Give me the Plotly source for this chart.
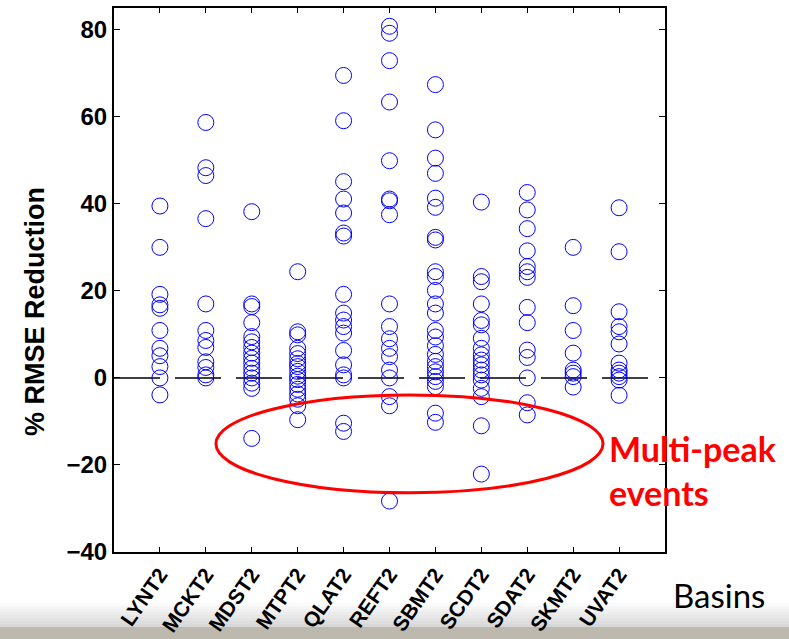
import plotly.graph_objects as go

basins = ["LYNT2", "MCKT2", "MDST2", "MTPT2", "QLAT2", "REFT2",
          "SBMT2", "SCDT2", "SDAT2", "SKMT2", "UVAT2"]

LYNT2 = [39.5, 30.0, 19.2, 16.8, 16.0, 10.9, 6.8, 5.1, 2.6, 0.0, -3.9]
MCKT2 = [58.7, 48.3, 46.5, 36.6, 17.0, 10.9, 8.6, 7.0, 3.7, 2.4, 0.7, 0.0]
MDST2 = [38.2, 17.0, 16.4, 12.7, 9.5, 8.3, 7.0, 5.7, 4.5, 3.4, 2.2, 1.1, 0.0, -1.2, -2.4, -13.9]
MTPT2 = [24.4, 10.6, 9.9, 6.8, 5.6, 4.4, 3.3, 2.6, 1.5, 0.4, -0.4, -1.5, -2.6, -3.7, -4.9, -6.4, -9.6]
QLAT2 = [69.5, 59.1, 45.1, 41.1, 37.9, 33.3, 32.6, 19.2, 14.9, 13.3, 11.8, 10.3, 6.3, 3.0, 0.7, 0.0, -10.4, -12.3]
REFT2 = [80.8, 79.2, 72.9, 63.4, 49.9, 41.1, 40.7, 37.5, 17.0, 11.8, 9.0, 6.8, 4.9, 1.8, 0.0, -4.3, -6.4, -28.3]
SBMT2 = [67.4, 57.0, 50.5, 47.0, 41.3, 39.2, 32.3, 31.7, 24.4, 23.3, 20.1, 17.0, 14.9, 10.9, 9.4,
         7.4, 5.4, 3.8, 2.6, 1.4, 0.3, -0.8, -2.0, -8.1, -10.2]
SCDT2 = [40.4, 23.3, 22.1, 17.0, 13.2, 12.2, 9.1, 6.8, 5.3, 4.1, 3.0, 1.8, 0.7, -0.5, -2.4, -4.3, -11.0, -22.1]
SDAT2 = [42.6, 38.6, 34.3, 29.2, 25.6, 24.4, 23.1, 16.2, 12.7, 6.4, 4.7, 0.0, -5.7, -8.5]
SKMT2 = [30.0, 16.6, 10.9, 5.7, 1.8, 1.1, 0.3, -2.1]
UVAT2 = [39.1, 29.0, 15.2, 11.8, 10.6, 7.8, 3.4, 1.8, 1.1, 0.3, -0.5, -4.0]

series = [LYNT2, MCKT2, MDST2, MTPT2, QLAT2, REFT2, SBMT2, SCDT2, SDAT2, SKMT2, UVAT2]
y_ticks = [-40, -20, 0, 20, 40, 60, 80]

xs, ys = [], []
for i, vals in enumerate(series):
    xs += [i + 1] * len(vals)
    ys += vals

fig = go.Figure()

# zero reference line (dashed)
fig.add_trace(go.Scatter(
    x=[0, 11.72], y=[0, 0], mode="lines",
    line=dict(color="black", width=1.5, dash="46px,15px"),
    hoverinfo="skip", showlegend=False))

fig.add_trace(go.Scatter(
    x=xs, y=ys, mode="markers",
    marker=dict(symbol="circle-open", size=16, color="#0000ff",
                line=dict(width=1, color="#0000ff")),
    showlegend=False))

fig.update_xaxes(
    range=[0, 12], tickvals=list(range(1, len(basins) + 1)), ticktext=basins,
    tickangle=-55, tickfont=dict(family="Liberation Sans, Arial", size=21, color="black", weight="bold"),
    showline=True, linecolor="black", linewidth=2, mirror="ticks", automargin=False,
    ticks="inside", ticklen=5, tickcolor="black", showgrid=False, zeroline=False)
fig.update_yaxes(
    range=[-40, 85], tickvals=y_ticks, automargin=False,
    tickfont=dict(family="Liberation Sans, Arial", size=24, color="black", weight="bold"),
    showline=True, linecolor="black", linewidth=2, mirror="ticks",
    ticks="inside", ticklen=6, tickcolor="black", showgrid=False, zeroline=False)

shapes = []
# red ellipse highlighting multi-peak events
shapes.append(dict(type="circle", xref="x", yref="y", x0=2.22, x1=10.65, y0=-26.4, y1=-3.9,
                   line=dict(color="#ff0000", width=3), layer="above"))
# bottom gradient strip
grad = ["#ffffff", "#fbfbfb", "#f6f6f6", "#f1f1f1", "#ececec", "#e7e7e7", "#e2e2e2", "#dddddd", "#d8d8d8"]
H = 544.0
for k, c in enumerate(grad):
    top = 600 + k * 3
    shapes.append(dict(type="rect", xref="paper", yref="paper", x0=-0.3, x1=1.3,
                       y0=(552 - (top + 3)) / H, y1=(552 - top) / H,
                       fillcolor=c, line=dict(width=0), layer="below"))
shapes.append(dict(type="rect", xref="paper", yref="paper", x0=-0.3, x1=1.3,
                   y0=(552 - 640) / H, y1=(552 - 627) / H,
                   fillcolor="#bdb9ae", line=dict(width=0), layer="below"))
fig.update_layout(shapes=shapes)

W = 551.0
fig.add_annotation(text="% RMSE Reduction", xref="paper", yref="paper",
                   x=(35 - 114) / W, y=(552 - 312) / H, textangle=-90, showarrow=False,
                   xanchor="center", yanchor="middle",
                   font=dict(family="Liberation Sans, Arial", size=27, color="black", weight="bold"))
fig.add_annotation(text="Multi-peak<br>events", xref="paper", yref="paper",
                   x=(607 - 114) / W, y=(552 - 470) / H, showarrow=False, align="left",
                   xanchor="left", yanchor="middle",
                   font=dict(family="Lato", size=34, color="#ff0000", weight="bold"))
fig.add_annotation(text="Basins", xref="paper", yref="paper",
                   x=(671 - 114) / W, y=(552 - 595) / H, showarrow=False,
                   xanchor="left", yanchor="middle",
                   font=dict(family="Lato", size=33, color="black"))

fig.update_layout(
    width=789, height=639,
    margin=dict(l=114, r=124, t=8, b=87, autoexpand=False),
    paper_bgcolor="white", plot_bgcolor="white",
    showlegend=False)

fig.write_html("out.html")
